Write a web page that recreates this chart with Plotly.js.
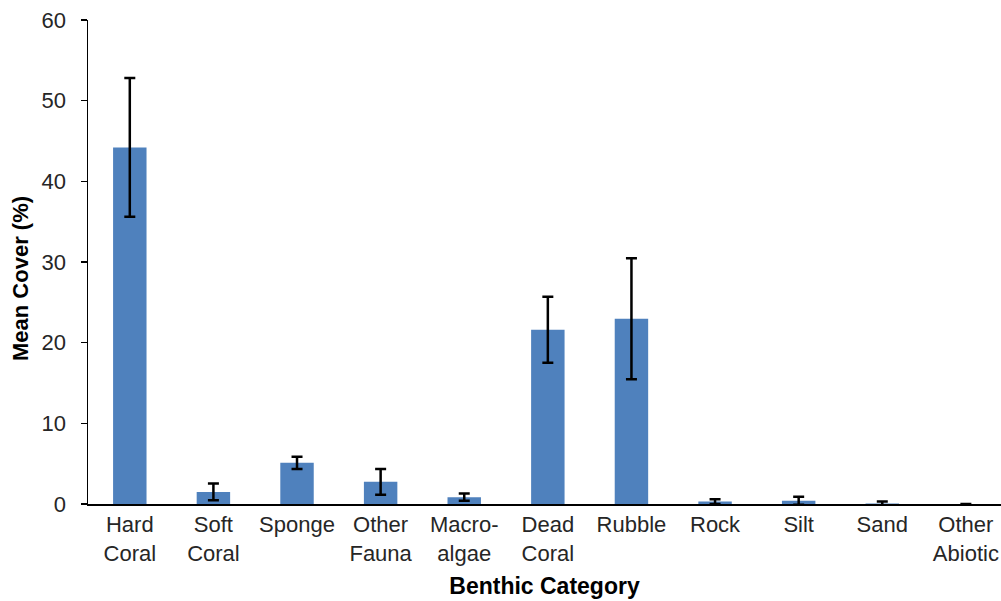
<!DOCTYPE html>
<html>
<head>
<meta charset="utf-8">
<script src="https://cdn.plot.ly/plotly-3.0.1.min.js"></script>
<style>html,body{margin:0;padding:0;background:#fff;}#chart{width:1001px;height:601px;}</style>
</head>
<body>
<div id="chart"></div>
<script>
const categories = ["Hard<br>Coral", "Soft<br>Coral", "Sponge", "Other<br>Fauna", "Macro-<br>algae", "Dead<br>Coral", "Rubble", "Rock", "Silt", "Sand", "Other<br>Abiotic"];
const meanCover = [44.2, 1.5, 5.1, 2.75, 0.85, 21.6, 22.95, 0.3, 0.4, 0.05, 0];
const errors = [8.6, 1.05, 0.75, 1.6, 0.45, 4.1, 7.5, 0.3, 0.5, 0.25, 0];
const yTicks = [0, 10, 20, 30, 40, 50, 60];

const trace = {
  type: 'bar',
  x: categories,
  y: meanCover,
  marker: {color: '#4F81BD'},
  error_y: {type: 'data', array: errors, visible: true, color: '#000000', thickness: 2.5, width: 5.5},
  hoverinfo: 'skip'
};

const layout = {
  width: 1001, height: 601,
  margin: {l: 88, r: 0, t: 20, b: 97},
  paper_bgcolor: '#ffffff', plot_bgcolor: '#ffffff',
  bargap: 0.6,
  showlegend: false,
  font: {family: 'Liberation Sans, Arial, sans-serif', size: 22, color: '#262626'},
  xaxis: {
    type: 'category',
    range: [-0.5, 10.42],
    showline: true, linecolor: '#000000', linewidth: 1.5,
    ticks: '', showgrid: false, zeroline: false,
    tickfont: {size: 22, color: '#262626'},
    title: {text: '<b>Benthic Category</b>', font: {size: 23, color: '#000000'}, standoff: 13}
  },
  yaxis: {
    range: [0, 60],
    tickvals: yTicks,
    showline: true, linecolor: '#000000', linewidth: 1.5,
    ticks: 'outside', ticklen: 6, tickcolor: '#000000', tickwidth: 1.5,
    ticklabelstandoff: 10,
    showgrid: false, zeroline: false,
    tickfont: {size: 22, color: '#262626'}
  },
  annotations: [{
    text: '<b>Mean Cover (%)</b>',
    xref: 'paper', yref: 'paper',
    x: (20 - 88) / 913, y: (504 - 279) / 484,
    xanchor: 'center', yanchor: 'middle',
    textangle: -90, showarrow: false,
    font: {size: 22, color: '#000000'}
  }]
};

Plotly.newPlot('chart', [trace], layout, {staticPlot: true, displayModeBar: false});
</script>
</body>
</html>
